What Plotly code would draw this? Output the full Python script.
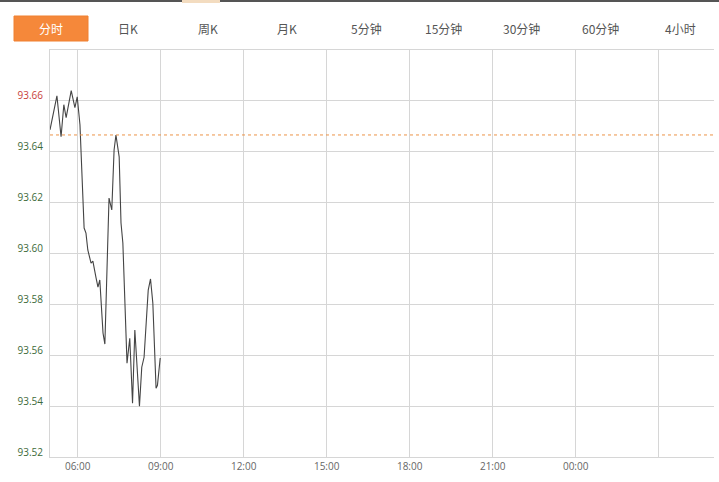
import plotly.graph_objects as go

# ---- data ----
times = ["05:00", "05:15", "05:24", "05:30", "05:35", "05:46", "05:54", "05:59",
         "06:05", "06:14", "06:18", "06:22", "06:29", "06:33", "06:40", "06:44",
         "06:48", "06:55", "06:59", "07:08", "07:14", "07:19", "07:23", "07:30",
         "07:34", "07:38", "07:47", "07:53", "07:59", "08:04", "08:14", "08:19",
         "08:24", "08:33", "08:38", "08:43", "08:50", "08:53", "08:59"]
prices = [93.6486, 93.6620, 93.6459, 93.6585, 93.6534, 93.6640, 93.6573, 93.6616,
          93.6506, 93.6100, 93.6080, 93.6014, 93.5962, 93.5970, 93.5903, 93.5868,
          93.5896, 93.5687, 93.5644, 93.6218, 93.6171, 93.6407, 93.6466, 93.6380,
          93.6120, 93.6041, 93.5569, 93.5667, 93.5411, 93.5699, 93.5400, 93.5553,
          93.5592, 93.5856, 93.5900, 93.5805, 93.5470, 93.5482, 93.5589]
prev_close = 93.6466

y_ticks = [93.52, 93.54, 93.56, 93.58, 93.60, 93.62, 93.64, 93.66]
x_ticks = ["06:00", "09:00", "12:00", "15:00", "18:00", "21:00", "00:00", "03:00"]
x_tick_labels = ["06:00", "09:00", "12:00", "15:00", "18:00", "21:00", "00:00", ""]
tabs = ["分时", "日K", "周K", "月K", "5分钟", "15分钟", "30分钟", "60分钟", "4小时"]
day1, day2 = "2024-01-02", "2024-01-03"


def stamp(hm):
    day = day1 if hm >= "05:00" else day2
    return f"{day} {hm}"


xs = [stamp(t) for t in times]
tick_vals = [stamp(t) for t in x_ticks]

RED = "#c8413a"
GREEN = "#3d6a3a"
y_text = [f'<span style="color:{RED if v > prev_close else GREEN}">{v:.2f}</span>' for v in y_ticks]

fig = go.Figure()
fig.add_trace(go.Scatter(x=xs, y=prices, mode="lines",
                         line=dict(color="#444444", width=1.1), hoverinfo="skip",
                         showlegend=False))

W, H = 719, 482
L, R, T, B = 50, 5, 50, 25
pw, ph = W - L - R, H - T - B


def px_x(x):
    return (x - L) / pw


def px_y(y):
    return (H - B - y) / ph


shapes = [
    dict(type="line", xref="x", yref="y", x0=xs[0], x1=stamp("04:59"), y0=prev_close, y1=prev_close,
         line=dict(color="#ec9448", width=1, dash="dot")),
    # top frame line
    dict(type="line", xref="paper", yref="paper", x0=px_x(0), x1=px_x(W), y0=px_y(1), y1=px_y(1),
         line=dict(color="#555555", width=2)),
    dict(type="rect", xref="paper", yref="paper", x0=px_x(182), x1=px_x(220), y0=px_y(0), y1=px_y(3),
         fillcolor="#f3dcc0", line=dict(width=0)),
    # selected tab
    dict(type="rect", xref="paper", yref="paper", x0=px_x(14), x1=px_x(88), y0=px_y(41), y1=px_y(16),
         fillcolor="#f5883a", line=dict(color="#f08030", width=1)),
]

tab_x = [51, 128, 208, 287, 366, 443, 521, 600, 680]
annotations = []
for i, (lab, cx) in enumerate(zip(tabs, tab_x)):
    annotations.append(dict(text=lab, x=px_x(cx), y=px_y(28.5), xref="paper", yref="paper",
                            showarrow=False, xanchor="center", yanchor="middle",
                            font=dict(family="Noto Sans CJK SC", size=12,
                                      color="#ffffff" if i == 0 else "#555555")))

fig.update_layout(
    width=W, height=H,
    margin=dict(l=L, r=R, t=T, b=B),
    paper_bgcolor="white", plot_bgcolor="white",
    shapes=shapes, annotations=annotations,
    font=dict(family="Open Sans", size=10, color="#666666"),
)
fig.update_xaxes(type="date", range=[stamp("05:00"), day2 + " 05:00"],
                 tickvals=tick_vals, ticktext=x_tick_labels,
                 showgrid=True, gridcolor="#d6d6d6", gridwidth=1,
                 showline=True, linecolor="#d6d6d6", linewidth=1, mirror=True,
                 zeroline=False, ticks="", tickfont=dict(color="#666666", size=10),
                 fixedrange=True)
fig.update_yaxes(range=[93.52, 93.68], tickvals=y_ticks, ticktext=y_text,
                 showgrid=True, gridcolor="#d6d6d6", gridwidth=1,
                 showline=True, linecolor="#d6d6d6", linewidth=1,
                 zeroline=False, ticks="", ticklabelshift=-5, ticklabelstandoff=4,
                 tickfont=dict(size=10), fixedrange=True)

fig.write_html("out.html", config={"displayModeBar": False},
               post_script="document.body.style.margin='0';document.body.style.overflow='hidden';")
